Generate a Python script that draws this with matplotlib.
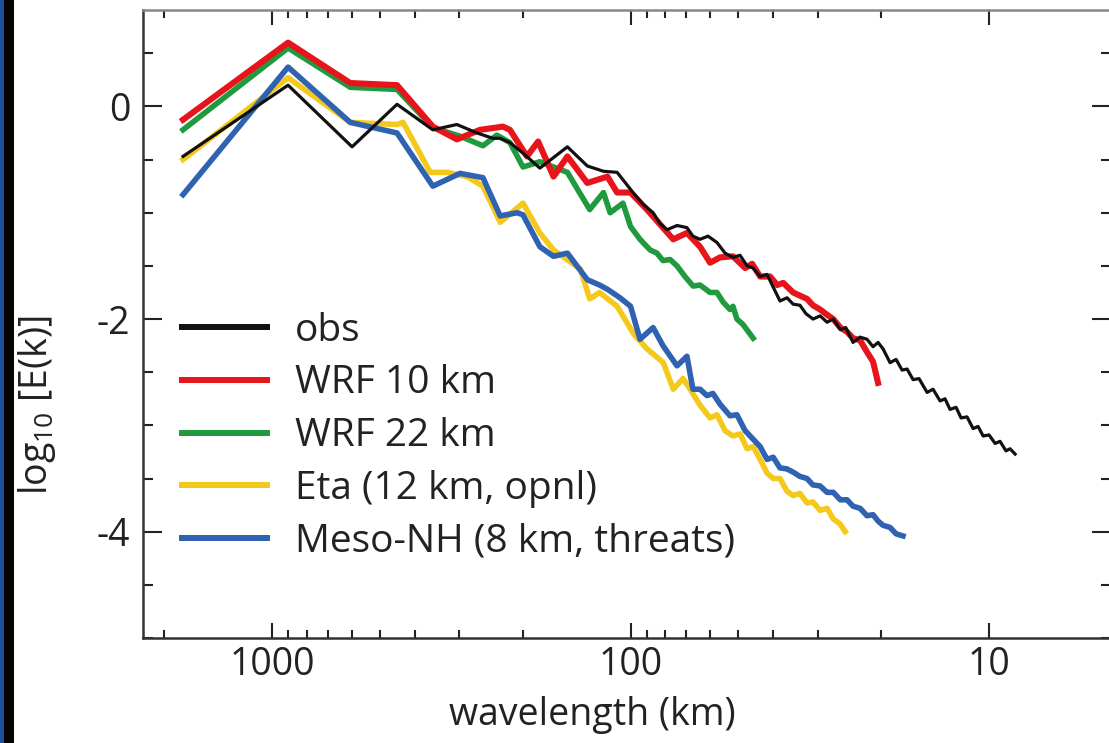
import matplotlib
matplotlib.use("Agg")
import matplotlib.pyplot as plt
from matplotlib.ticker import FixedLocator, NullFormatter, MultipleLocator
from matplotlib.patches import Rectangle

plt.rcParams['font.family'] = ['Open Sans', 'DejaVu Sans']
plt.rcParams['mathtext.fontset'] = 'custom'
plt.rcParams['mathtext.rm'] = 'Open Sans'
plt.rcParams['mathtext.it'] = 'Open Sans'
plt.rcParams['axes.unicode_minus'] = False

# ---- data (wavelength in km, log10 E(k)) ----
obs_wl = [1771, 902, 598, 448, 356, 305, 268, 242, 231, 217, 199.5, 179, 150, 132, 119, 109,
          98.4, 92.3, 86.5, 82.8, 79.1, 74.2, 69.6, 67, 64, 60.8, 57.4, 54.5, 51.8, 49.5, 47.3,
          45.5, 43.5, 41.6, 40, 38.3, 36.6, 35.2, 33.7, 32.4, 30.97, 29.6, 28.3, 27.2, 26.0, 25.1,
          23.96, 22.9, 21.9, 21.07, 20.4, 19.76, 18.89, 18.17, 17.48, 16.93, 16.29, 15.68, 14.89,
          14.33, 13.70, 13.27, 12.85, 12.36, 11.97, 11.52, 11.08, 10.73, 10.39, 10.0, 9.62, 9.32,
          8.97, 8.74, 8.46]
obs_val = [-0.47, 0.20, -0.38, 0.02, -0.22, -0.17, -0.25, -0.30, -0.30, -0.34, -0.44, -0.58, -0.38,
           -0.56, -0.61, -0.62, -0.81, -0.92, -1.0, -1.1, -1.16, -1.12, -1.14, -1.22, -1.25, -1.22,
           -1.28, -1.38, -1.42, -1.40, -1.5, -1.52, -1.6, -1.58, -1.7, -1.83, -1.80, -1.86, -1.87,
           -1.95, -2.0, -1.97, -2.03, -2.0, -2.1, -2.08, -2.22, -2.17, -2.19, -2.26, -2.22, -2.28,
           -2.41, -2.38, -2.48, -2.47, -2.57, -2.56, -2.69, -2.66, -2.77, -2.75, -2.85, -2.83,
           -2.93, -2.92, -3.03, -3.01, -3.1, -3.09, -3.17, -3.15, -3.24, -3.22, -3.27]

wrf10_wl = [1771, 902, 605, 448, 356, 305, 263, 227, 217, 194.5, 181, 164, 150, 132, 116, 109, 100,
            90, 76, 69.6, 64, 60, 56.3, 51.8, 47.9, 45.8, 43.5, 40.8, 39.0, 37.5, 35.2, 33.7, 32.2,
            31.0, 29.6, 28.3, 27.2, 26.0, 24.9, 23.96, 22.9, 21.9, 21.07, 20.4]
wrf10_val = [-0.125, 0.60, 0.22, 0.20, -0.19, -0.31, -0.22, -0.19, -0.22, -0.47, -0.33, -0.66, -0.47,
             -0.72, -0.66, -0.81, -0.81, -0.97, -1.25, -1.19, -1.32, -1.47, -1.42, -1.41, -1.52,
             -1.48, -1.6, -1.6, -1.68, -1.66, -1.75, -1.78, -1.81, -1.87, -1.91, -1.96, -2.0, -2.08,
             -2.12, -2.18, -2.2, -2.31, -2.4, -2.6]

wrf22_wl = [1771, 902, 605, 448, 356, 299, 258, 236, 217, 199.5, 179, 150, 130, 119, 114, 105, 100,
            94.1, 88.2, 84.4, 81.2, 77.6, 74.2, 70.5, 66.9, 64, 60, 57.4, 55.2, 52.8, 51.8, 50.5,
            48.6, 45.5]
wrf22_val = [-0.22, 0.55, 0.18, 0.16, -0.20, -0.28, -0.37, -0.27, -0.34, -0.57, -0.52, -0.62, -0.97,
             -0.81, -1.0, -0.91, -1.13, -1.25, -1.35, -1.38, -1.45, -1.44, -1.5, -1.6, -1.69, -1.68,
             -1.75, -1.75, -1.84, -1.91, -1.88, -2.0, -2.05, -2.18]

eta_wl = [1771, 902, 605, 448, 431, 362, 325, 286, 258, 231, 199.5, 179, 164, 138, 130, 122, 109,
          98, 90, 81, 76, 71.4, 68.2, 64, 60, 57.4, 54.5, 51.8, 49.5, 47.3, 45.5, 43.5, 41.6, 40,
          38.3, 36.6, 35.2, 33.7, 32.2, 31, 29.6, 28.3, 27.2, 26.0, 25.2]
eta_val = [-0.5, 0.27, -0.15, -0.17, -0.15, -0.62, -0.62, -0.66, -0.75, -1.09, -0.91, -1.19, -1.35,
           -1.53, -1.81, -1.75, -1.88, -2.14, -2.28, -2.41, -2.66, -2.56, -2.66, -2.81, -2.93,
           -2.9, -3.05, -3.1, -3.08, -3.22, -3.2, -3.32, -3.45, -3.5, -3.5, -3.62, -3.66, -3.64,
           -3.73, -3.72, -3.8, -3.78, -3.88, -3.93, -4.0]

meso_wl = [1771, 902, 605, 448, 356, 299, 258, 231, 207, 199.5, 179, 164, 150, 132, 122, 116, 107,
           100, 94.1, 86.5, 81.2, 74.2, 69.6, 67, 64, 61.2, 58.9, 56.3, 52.8, 50.5, 47.9, 45.5,
           43.5, 41.6, 40, 38.3, 36.6, 35.2, 33.7, 32.2, 31, 29.6, 28.3, 27.2, 26.0, 24.9, 23.96,
           22.9, 21.9, 21.07, 20.4, 19.76, 18.89, 18.17, 17.38]
meso_val = [-0.83, 0.37, -0.15, -0.25, -0.75, -0.63, -0.67, -1.03, -1.0, -1.02, -1.32, -1.41, -1.38,
            -1.63, -1.68, -1.72, -1.8, -1.88, -2.19, -2.08, -2.25, -2.44, -2.35, -2.66, -2.66,
            -2.72, -2.70, -2.8, -2.91, -2.9, -3.05, -3.13, -3.2, -3.32, -3.3, -3.4, -3.41, -3.44,
            -3.48, -3.5, -3.56, -3.57, -3.63, -3.63, -3.7, -3.7, -3.76, -3.78, -3.85, -3.84, -3.9,
            -3.94, -3.96, -4.02, -4.04]

labels = ["obs", "WRF 10 km", "WRF 22 km", "Eta (12 km, opnl)", "Meso-NH (8 km, threats)"]
colors = ["#111111", "#e8141c", "#1f9a3e", "#f4c91c", "#2f62b0"]

xmajor = [1000, 100, 10]
xmajor_labels = ["1000", "100", "10"]
xminor = [2000, 900, 800, 700, 600, 500, 400, 300, 200, 90, 80, 70, 60, 50, 40, 30, 20]
ymajor = [-4, -2, 0]

# ---- figure ----
fig = plt.figure(figsize=(11.09, 7.43), dpi=100)
fig.patches.append(Rectangle((0, 0), 4 / 1109, 1, transform=fig.transFigure,
                             facecolor="#1d4f9e", edgecolor="none", zorder=0))
fig.patches.append(Rectangle((4 / 1109, 0), 10 / 1109, 1, transform=fig.transFigure,
                             facecolor="#050505", edgecolor="none", zorder=0))

ax = fig.add_axes([143 / 1109, 1 - 638 / 743, (1111 - 143) / 1109, (638 - 10) / 743])

series = [(obs_wl, obs_val, 2.3, 6), (wrf10_wl, wrf10_val, 4.4, 5), (wrf22_wl, wrf22_val, 4.0, 4),
          (eta_wl, eta_val, 4.0, 2), (meso_wl, meso_val, 4.0, 3)]
for (wl, v, lw, z), lab, c in zip(series, labels, colors):
    ax.plot(wl, v, color=c, lw=lw, label=lab, zorder=z)

ax.set_xscale("log")
ax.set_xlim(2290, 4.57)
ax.set_ylim(-5, 0.907)

ax.xaxis.set_major_locator(FixedLocator(xmajor))
ax.set_xticklabels(xmajor_labels)
ax.xaxis.set_minor_locator(FixedLocator(xminor))
ax.xaxis.set_minor_formatter(NullFormatter())
ax.yaxis.set_major_locator(FixedLocator(ymajor))
ax.yaxis.set_minor_locator(MultipleLocator(0.5))

ax.tick_params(axis="both", which="both", direction="in", top=True, right=True,
               colors="#222222", labelsize=27, width=1.5)
ax.tick_params(axis="x", which="major", length=11, pad=6)
ax.tick_params(axis="x", which="minor", length=5.5)
ax.tick_params(axis="y", which="major", length=14, pad=9)
ax.tick_params(axis="y", which="minor", length=7.5)

for s in ax.spines.values():
    s.set_linewidth(1.8)
    s.set_color("#333333")
ax.spines["top"].set_color("#888888")

ax.set_xlabel("wavelength (km)", fontsize=27, color="#222222", va="center")
ax.xaxis.set_label_coords((592 - 143) / 968, (638 - 715) / 628)
ax.set_ylabel(r"log$_{10}$ [E(k)]", fontsize=27, color="#222222", va="center")
ax.yaxis.set_label_coords((37 - 143) / 968, (638 - 405) / 628)

leg = ax.legend(loc="upper left", bbox_to_anchor=(0.032, 0.532), frameon=False, fontsize=28,
                handlelength=2.2, handletextpad=0.72, labelspacing=0.38, borderpad=0.2,
                borderaxespad=0)
for line in leg.get_lines():
    line.set_linewidth(4.3)
for t in leg.get_texts():
    t.set_color("#222222")

fig.savefig("out.png", dpi=100)
